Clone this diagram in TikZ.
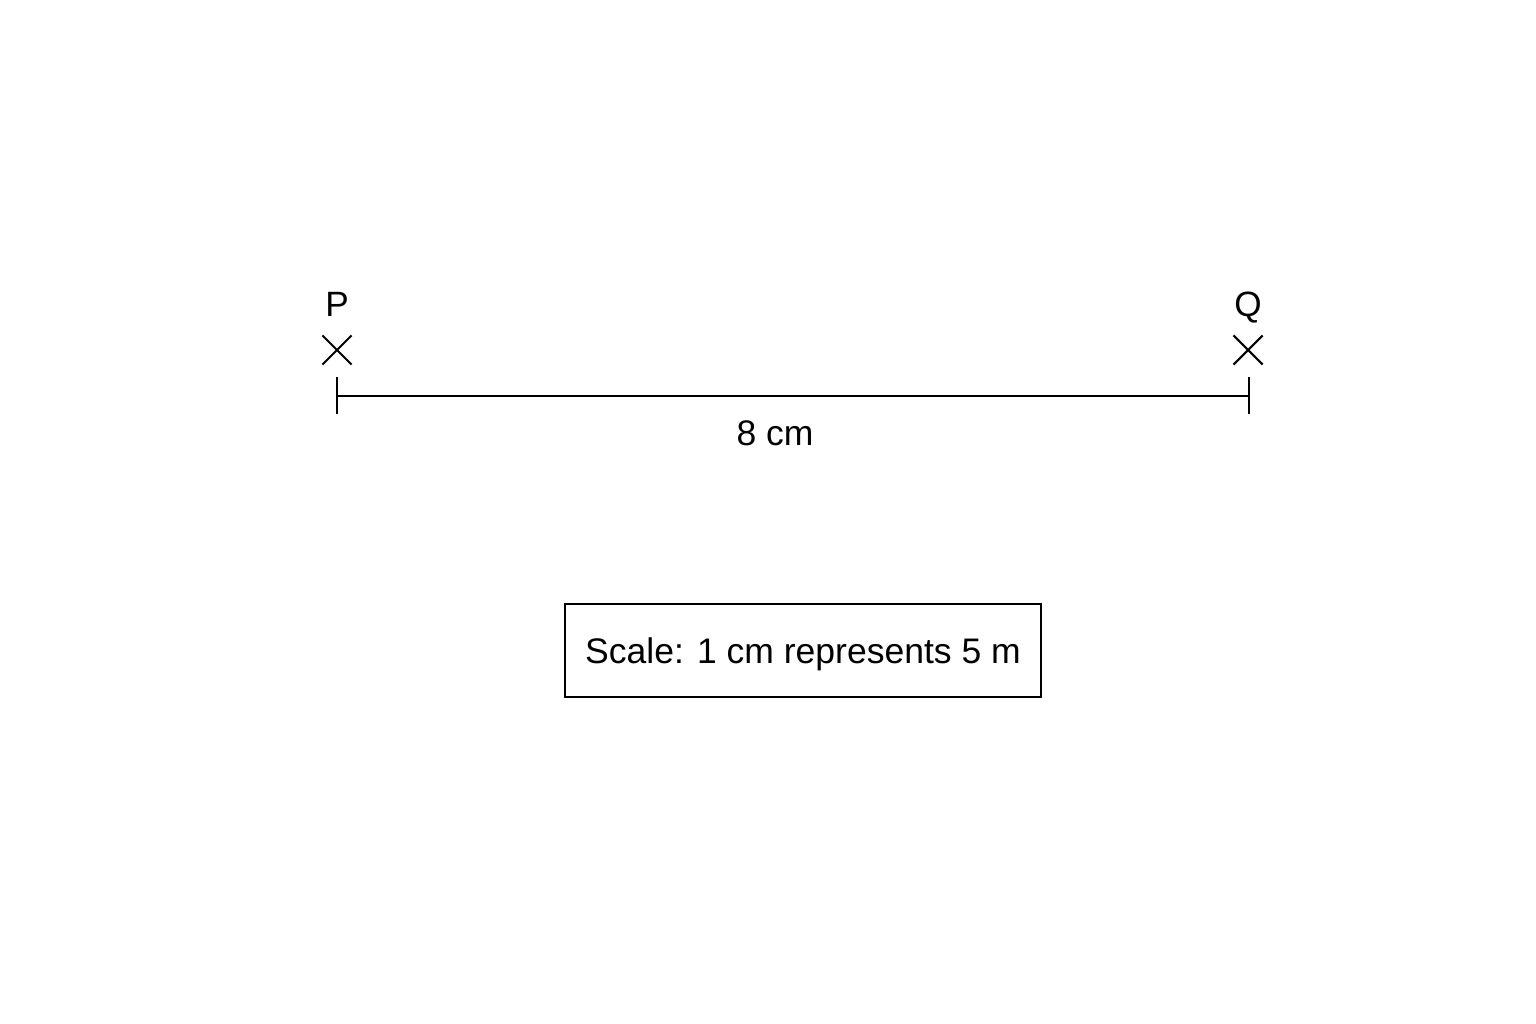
\documentclass[tikz,border=0pt]{standalone}
\usepackage{fontspec}
\setmainfont{Liberation Sans}
\usetikzlibrary{shapes.misc,positioning}

\begin{document}
\begin{tikzpicture}[x=0.01cm,y=-0.01cm,line width=0.6pt,font=\fontsize{10.1}{12}\selectfont,
  crossmark/.style={cross out,draw,minimum size=0.27cm,inner sep=0pt},
  ptlabel/.style={inner sep=0pt,font=\fontsize{10}{12}\selectfont},
  scalebox/.style={draw,minimum width=4.76cm,minimum height=0.93cm,inner sep=0pt,
    text height=0.3cm,text depth=0.05cm}]
  \useasboundingbox (0,0) rectangle (1536,1024);

  \node[crossmark] (P) at (337,350) {};
  \node[crossmark] (Q) at (1248,350) {};
  \node[ptlabel,above=0.185cm of P,anchor=base] (Plabel) {P};
  \node[ptlabel,above=0.185cm of Q,anchor=base] (Qlabel) {Q};

  \coordinate (A) at (337,396);
  \coordinate (B) at (1249,396);
  \draw (A) -- (B);
  \draw (A) ++(0,-19) -- ++(0,37);
  \draw (B) ++(0,-19) -- ++(0,37);
  \node (len) at (775,433) {8 cm};

  \node[scalebox] (scale) at (803,650.5) {Scale: 1 cm represents 5 m};
\end{tikzpicture}
\end{document}
